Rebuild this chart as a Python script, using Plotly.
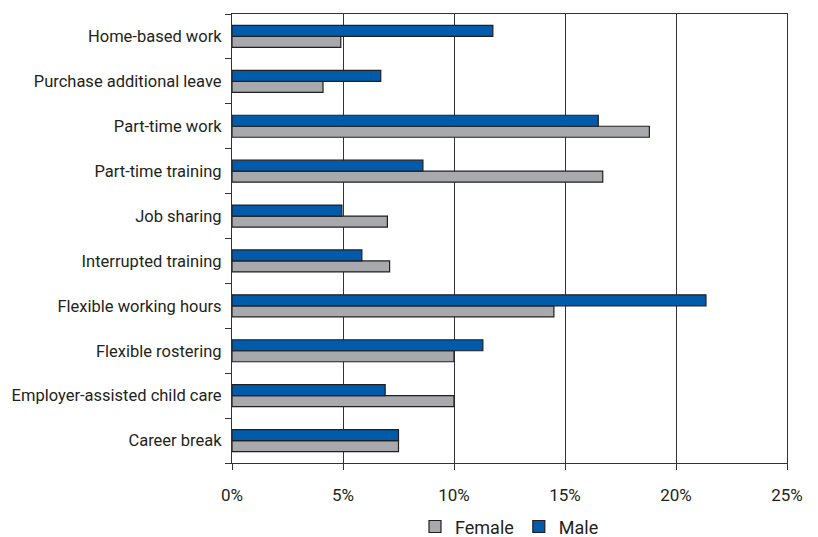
import plotly.graph_objects as go

# Flexible work arrangements used, by sex (share of respondents, %)
categories = [
    "Home-based work",
    "Purchase additional leave",
    "Part-time work",
    "Part-time training",
    "Job sharing",
    "Interrupted training",
    "Flexible working hours",
    "Flexible rostering",
    "Employer-assisted child care",
    "Career break",
]
female = [4.9, 4.1, 18.8, 16.7, 7.0, 7.1, 14.5, 10.0, 10.0, 7.5]
male = [11.75, 6.7, 16.5, 8.6, 4.95, 5.85, 21.35, 11.3, 6.9, 7.5]

x_ticks = [0, 5, 10, 15, 20, 25]
x_tick_labels = ["0%", "5%", "10%", "15%", "20%", "25%"]

FEMALE_COLOR = "#A7A9AC"
MALE_COLOR = "#005BAA"
OUTLINE = "#231F20"
TEXT = "#231F20"

fig = go.Figure()
fig.add_trace(go.Bar(
    y=categories, x=female, name="Female", orientation="h",
    marker=dict(color=FEMALE_COLOR, line=dict(color=OUTLINE, width=1.2)),
))
fig.add_trace(go.Bar(
    y=categories, x=male, name="Male", orientation="h",
    marker=dict(color=MALE_COLOR, line=dict(color=OUTLINE, width=1.2)),
))

fig.update_layout(
    width=818, height=537,
    margin=dict(l=232, r=31, t=14, b=74),
    paper_bgcolor="white", plot_bgcolor="white",
    barmode="group", bargap=0.51, bargroupgap=0,
    font=dict(family="Roboto", size=16.5, color=TEXT),
    showlegend=True,
    legend=dict(
        orientation="h", x=0.5, xanchor="center",
        yref="container", y=0.019, yanchor="middle",
        font=dict(size=18, color=TEXT), traceorder="normal",
    ),
    xaxis=dict(
        range=[0, 25], tickvals=x_ticks, ticktext=x_tick_labels,
        showgrid=True, gridcolor="#333333", gridwidth=1,
        showline=True, linecolor="#333333", linewidth=1.2, mirror=True,
        ticks="outside", ticklen=6, tickcolor="#333333",
        ticklabelstandoff=10, tickfont=dict(size=17),
        zeroline=False, fixedrange=True, automargin=False,
    ),
    yaxis=dict(
        type="category", categoryorder="array", categoryarray=categories[::-1],
        showgrid=False, showline=True, linecolor="#333333", linewidth=1.2,
        mirror=True, ticks="outside", ticklen=6, tickcolor="#333333",
        tickson="boundaries", ticklabelstandoff=6, fixedrange=True,
        automargin=False,
    ),
)

fig.write_html("out.html")
